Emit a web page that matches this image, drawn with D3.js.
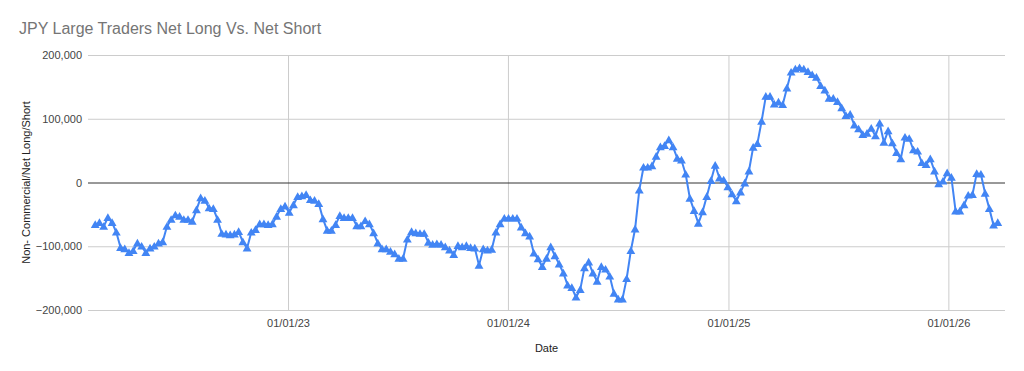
<!DOCTYPE html>
<html>
<head>
<meta charset="utf-8">
<script src="https://cdn.jsdelivr.net/npm/d3@7"></script>
<style>
  html, body { margin: 0; padding: 0; background: #fff; }
  svg { display: block; font-family: Arial, "Liberation Sans", sans-serif; }
</style>
</head>
<body>
<svg id="chart" width="1024" height="371"></svg>
<script>
// ---- data ----
const title = "JPY Large Traders Net Long Vs. Net Short";
const xTitle = "Date";
const yTitle = "Non- Commercial/Net Long/Short";
const firstReportDate = "2022-02-15"; // weekly (Tuesday) reports
const netPosition = [
  -66000, -63000, -69000, -55000, -63000, -78000, -102000, -104000, -110000, -107000,
  -95000, -100000, -110000, -103000, -100000, -95000, -93000, -69000, -58000, -51000,
  -53000, -58000, -58000, -61000, -43000, -24000, -28000, -40000, -41000, -58000,
  -80000, -81000, -82000, -81000, -77000, -93000, -103000, -78000, -74000, -65000,
  -65000, -66000, -65000, -53000, -41000, -37000, -47000, -35000, -22000, -21000,
  -19000, -27000, -28000, -33000, -57000, -75000, -75000, -66000, -52000, -55000,
  -55000, -55000, -68000, -68000, -60000, -65000, -79000, -95000, -104000, -104000,
  -108000, -112000, -119000, -119000, -89000, -77000, -79000, -80000, -80000, -94000,
  -97000, -96000, -97000, -101000, -106000, -113000, -99000, -101000, -99000, -102000,
  -103000, -130000, -104000, -106000, -105000, -78000, -65000, -56000, -56000, -56000,
  -56000, -70000, -79000, -84000, -111000, -120000, -132000, -119000, -101000, -115000,
  -128000, -142000, -161000, -165000, -180000, -168000, -134000, -125000, -142000, -155000,
  -132000, -136000, -147000, -174000, -183000, -183000, -151000, -107000, -73000, -12000,
  24000, 24000, 26000, 41000, 56000, 58000, 67000, 56000, 38000, 35000,
  13000, -25000, -44000, -64000, -46000, -22000, 3000, 27000, 7000, 4000,
  -7000, -18000, -29000, -15000, -1000, 18000, 55000, 61000, 96000, 135000,
  135000, 123000, 126000, 122000, 148000, 173000, 178000, 180000, 178000, 174000,
  169000, 165000, 152000, 145000, 132000, 132000, 127000, 117000, 105000, 107000,
  90000, 84000, 75000, 77000, 85000, 73000, 93000, 63000, 81000, 62000,
  47000, 37000, 71000, 69000, 51000, 49000, 31000, 28000, 37000, 18000,
  -2000, 2000, 15000, 8000, -45000, -45000, -35000, -20000, -19000, 14000,
  13000, -17000, -41000, -67000, -63000
];
const yTicks = [-200000, -100000, 0, 100000, 200000];
const xTicks = ["2023-01-01", "2024-01-01", "2025-01-01", "2026-01-01"];
const xDomain = ["2022-02-03", "2026-04-05"];
const yDomain = [-200000, 200000];

// ---- build ----
const parse = d3.utcParse("%Y-%m-%d");
const startDate = parse(firstReportDate);
const data = netPosition.map((v, i) => ({ date: d3.utcWeek.offset(startDate, i), value: v }));

const svg = d3.select("#chart");
const mLeft = 88, mRight = 1005, mTop = 55, mBottom = 310;

const x = d3.scaleUtc().domain(xDomain.map(parse)).range([mLeft, mRight]);
const y = d3.scaleLinear().domain(yDomain).range([mBottom, mTop]);

// title
svg.append("text")
  .attr("x", 19).attr("y", 34)
  .attr("font-size", 16).attr("fill", "#757575")
  .text(title);

// vertical gridlines + labels
const xAxis = d3.axisBottom(x).tickValues(xTicks.map(parse))
  .tickSize(-(mBottom - mTop)).tickPadding(9)
  .tickFormat(d3.utcFormat("%m/%d/%y"));
const gx = svg.append("g").attr("transform", `translate(0,${mBottom})`).call(xAxis);
gx.select(".domain").remove();
gx.selectAll(".tick line").attr("stroke", "#ccc");
gx.selectAll(".tick text").attr("font-size", 11).attr("fill", "#444")
  .attr("font-family", "Arial, 'Liberation Sans', sans-serif");

// horizontal gridlines
const yAxis = d3.axisLeft(y).tickValues(yTicks)
  .tickSize(-(mRight - mLeft)).tickPadding(6)
  .tickFormat(d3.format(","));
const gy = svg.append("g").attr("transform", `translate(${mLeft},0)`).call(yAxis);
gy.select(".domain").remove();
gy.selectAll(".tick line").attr("stroke", d => d === 0 ? "#333" : "#ccc").attr("stroke-width", 1);
gy.selectAll(".tick text").attr("font-size", 11).attr("fill", "#444")
  .attr("font-family", "Arial, 'Liberation Sans', sans-serif");

// axis titles
svg.append("text")
  .attr("x", (mLeft + mRight) / 2).attr("y", 352)
  .attr("text-anchor", "middle").attr("font-size", 11).attr("fill", "#222")
  .text(xTitle);
svg.append("text")
  .attr("transform", `translate(30,${(mTop + mBottom) / 2}) rotate(-90)`)
  .attr("text-anchor", "middle").attr("font-size", 11).attr("fill", "#222")
  .text(yTitle);

// line
const line = d3.line().x(d => x(d.date)).y(d => y(d.value));
svg.append("path").datum(data)
  .attr("fill", "none").attr("stroke", "#4285F4").attr("stroke-width", 2)
  .attr("stroke-linejoin", "round")
  .attr("d", line);

// triangle markers
const tri = d3.symbol().type(d3.symbolTriangle).size(34);
svg.append("g").selectAll("path").data(data).join("path")
  .attr("transform", d => `translate(${x(d.date)},${y(d.value) + 0.8})`)
  .attr("d", tri)
  .attr("fill", "#4285F4");
</script>
</body>
</html>
